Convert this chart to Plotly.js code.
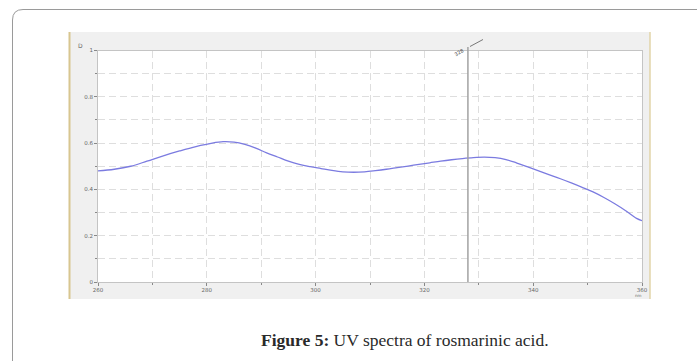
<!DOCTYPE html>
<html>
<head>
<meta charset="utf-8">
<script src="https://cdn.plot.ly/plotly-3.0.1.min.js"></script>
<style>html,body{margin:0;padding:0;background:#fff;}#chart{width:697px;height:361px;}</style>
</head>
<body>
<div id="chart"></div>
<script>
// Data
const wavelengths = [260,263,266,269,272,275,278,281,283,285,287,289,291,293,295,297,299,301,303,305,307,309,311,313,315,317,319,321,323,325,327,329,331,333,335,337,339,341,343,345,347,349,351,353,355,357,359,360];
const absorbance  = [0.480,0.487,0.500,0.522,0.545,0.566,0.585,0.600,0.606,0.604,0.594,0.578,0.558,0.540,0.522,0.508,0.498,0.490,0.482,0.476,0.474,0.476,0.481,0.487,0.494,0.501,0.508,0.515,0.522,0.528,0.533,0.537,0.539,0.537,0.529,0.514,0.497,0.480,0.463,0.446,0.428,0.409,0.389,0.365,0.338,0.308,0.275,0.265];
const xTickStart = 260, xTickStep = 20, xMinorStep = 10;
const yTickStart = 0, yTickStep = 0.2, yMinorStep = 0.1;
const cursorWavelength = 328;
const cursorLabel = "328";

const W = 697, H = 361;
const px = v => v / W;
const py = v => 1 - v / H;

const trace = {
  x: wavelengths, y: absorbance, type: 'scatter', mode: 'lines',
  line: {color: '#7b7be0', width: 1.3, shape: 'spline', smoothing: 1},
  hoverinfo: 'skip'
};

const tickFont = {family: 'DejaVu Sans, sans-serif', size: 5.5, color: '#666'};
const gridDash = '7px,4px';
const gridColor = '#dedede';

const layout = {
  width: W, height: H,
  margin: {l: 0, r: 0, t: 0, b: 0},
  paper_bgcolor: '#ffffff',
  plot_bgcolor: 'rgba(0,0,0,0)',
  showlegend: false,
  xaxis: {
    domain: [px(98), px(642)],
    range: [260, 360],
    tickmode: 'linear', tick0: xTickStart, dtick: xTickStep,
    ticks: 'outside', ticklen: 3, tickcolor: '#888', tickwidth: 1,
    ticklabelstandoff: -1,
    tickfont: tickFont,
    showgrid: true, gridcolor: gridColor, griddash: gridDash, gridwidth: 1,
    minor: {tickmode: 'linear', tick0: xTickStart, dtick: xMinorStep, showgrid: true, gridcolor: gridColor, griddash: gridDash, ticks: 'outside', ticklen: 2, tickcolor: '#888'},
    showline: true, linecolor: '#c4c4c4', linewidth: 1, mirror: true,
    zeroline: false, fixedrange: true
  },
  yaxis: {
    domain: [1 - 282 / H, 1 - 50.5 / H],
    range: [0, 1],
    tickmode: 'linear', tick0: yTickStart, dtick: yTickStep,
    ticks: 'outside', ticklen: 3, tickcolor: '#888', tickwidth: 1,
    tickfont: tickFont,
    showgrid: true, gridcolor: gridColor, griddash: gridDash, gridwidth: 1,
    minor: {tickmode: 'linear', tick0: yTickStart, dtick: yMinorStep, showgrid: true, gridcolor: gridColor, griddash: gridDash, ticks: 'outside', ticklen: 2, tickcolor: '#888'},
    showline: true, linecolor: '#c4c4c4', linewidth: 1, mirror: true,
    zeroline: false, fixedrange: true
  },
  shapes: [
    // outer rounded frame
    {type: 'path', xref: 'paper', yref: 'paper', layer: 'below',
     path: `M ${px(12.5)} ${py(370)} L ${px(12.5)} ${py(20)} Q ${px(12.5)} ${py(9.5)} ${px(23)} ${py(9.5)} L ${px(710)} ${py(9.5)}`,
     line: {color: '#9a9a9a', width: 1}},
    // gray panel
    {type: 'rect', xref: 'paper', yref: 'paper', layer: 'below',
     x0: px(69), x1: px(650), y0: py(299), y1: py(32),
     fillcolor: '#f0f0f0', line: {width: 0}},
    // white plot area
    {type: 'rect', xref: 'paper', yref: 'paper', layer: 'below',
     x0: px(98), x1: px(642), y0: py(282), y1: py(50.5),
     fillcolor: '#ffffff', line: {width: 0}},
    // tan side borders
    {type: 'line', xref: 'paper', yref: 'paper', layer: 'below',
     x0: px(69.5), x1: px(69.5), y0: py(299), y1: py(32), line: {color: '#d8c690', width: 2}},
    {type: 'line', xref: 'paper', yref: 'paper', layer: 'below',
     x0: px(650), x1: px(650), y0: py(299), y1: py(32), line: {color: '#e2d4a8', width: 1.5}},
    // cursor line
    {type: 'line', xref: 'x', yref: 'paper', layer: 'above',
     x0: cursorWavelength, x1: cursorWavelength, y0: py(282), y1: py(47),
     line: {color: '#a2a2a2', width: 1.5}},
    // cursor label tick
    {type: 'line', xref: 'paper', yref: 'paper', layer: 'above',
     x0: px(470), x1: px(483), y0: py(46.5), y1: py(39.5),
     line: {color: '#777', width: 1}}
  ],
  annotations: [
    {xref: 'paper', yref: 'paper', x: px(76), y: py(40), text: 'D', showarrow: false,
     font: {family: 'DejaVu Sans, sans-serif', size: 6, color: '#666'}},
    {xref: 'paper', yref: 'paper', x: px(644), y: py(299.5), text: 'nm', showarrow: false,
     font: {family: 'DejaVu Sans, sans-serif', size: 4, color: '#666'}},
    {xref: 'paper', yref: 'paper', x: px(468), y: py(44), text: cursorLabel, showarrow: false, textangle: -30,
     font: {family: 'DejaVu Sans, sans-serif', size: 5, color: '#444'}},
    {xref: 'paper', yref: 'paper', x: px(405), y: py(340), xanchor: 'center', yanchor: 'middle',
     text: '<b>Figure 5:</b> UV spectra of rosmarinic acid.', showarrow: false,
     font: {family: 'Liberation Serif, serif', size: 17.5, color: '#2a2a2a'}}
  ]
};

Plotly.newPlot('chart', [trace], layout, {staticPlot: true, displayModeBar: false});
</script>
</body>
</html>
